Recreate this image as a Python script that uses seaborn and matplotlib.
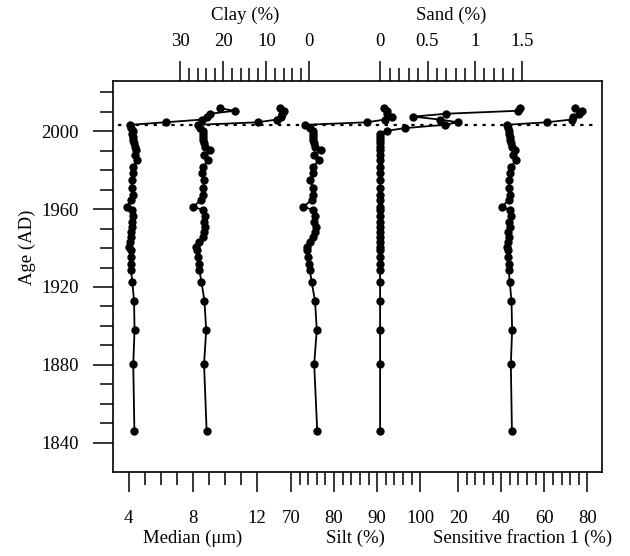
import matplotlib
matplotlib.use("Agg")
import matplotlib.pyplot as plt
import matplotlib.transforms as mtransforms
import seaborn as sns

# ages of the samples (AD), youngest first
ages = [2011.8, 2010.5, 2009.0, 2007.5, 2006.0, 2004.6, 2003.3, 2001.6, 2000.2, 1998.8,
        1997.0, 1995.5, 1993.8, 1991.8, 1990.5, 1987.8, 1985.2, 1981.5, 1978.4, 1975.0,
        1970.7, 1967.3, 1964.7, 1961.2, 1959.5, 1956.5, 1953.5, 1951.0, 1948.4, 1945.5,
        1943.3, 1940.7, 1939.0, 1935.6, 1931.8, 1928.7, 1922.7, 1912.7, 1897.9, 1880.4,
        1846.2]

median = [9.7, 10.6, 9.1, 8.9, 8.6, 6.3, 4.09, 4.15, 4.26, 4.21,
          4.27, 4.29, 4.34, 4.40, 4.49, 4.40, 4.50, 4.29, 4.26, 4.19,
          4.19, 4.26, 4.18, 3.88, 4.23, 4.27, 4.19, 4.24, 4.15, 4.18,
          4.09, 4.04, 4.12, 4.15, 4.15, 4.15, 4.23, 4.34, 4.37, 4.29,
          4.36]

clay = [6.8, 6.0, 6.4, 6.5, 7.6, 12.0, 26.0, 25.4, 24.8, 24.7,
        24.8, 24.7, 24.5, 24.3, 23.1, 24.5, 23.5, 24.7, 24.9, 24.6,
        24.7, 24.8, 25.2, 27.0, 24.7, 24.3, 24.6, 24.2, 24.4, 24.8,
        25.6, 26.4, 26.2, 26.0, 25.7, 25.6, 25.1, 24.4, 24.0, 24.5,
        23.9]

silt = [91.7, 92.3, 92.2, 93.4, 91.8, 87.6, 73.3, 74.4, 75.1, 75.2,
        75.2, 75.2, 75.4, 75.6, 76.9, 75.4, 76.4, 75.2, 75.1, 74.4,
        75.2, 75.2, 74.8, 72.9, 75.2, 75.6, 75.4, 75.8, 75.6, 75.2,
        74.4, 73.7, 73.8, 74.0, 74.3, 74.4, 74.8, 75.6, 76.0, 75.4,
        76.1]

sand = [1.48, 1.45, 0.70, 0.35, 0.63, 0.82, 0.68, 0.26, 0.07, 0.0,
        0.0, 0.0, 0.0, 0.0, 0.0, 0.0, 0.0, 0.0, 0.0, 0.0,
        0.0, 0.0, 0.0, 0.0, 0.0, 0.0, 0.0, 0.0, 0.0, 0.0,
        0.0, 0.0, 0.0, 0.0, 0.0, 0.0, 0.0, 0.0, 0.0, 0.0,
        0.0]

sf1 = [74.2, 77.3, 76.2, 73.4, 72.7, 61.1, 42.6, 43.4, 43.8, 43.8,
       44.3, 44.1, 44.8, 45.2, 46.4, 45.3, 46.9, 44.5, 44.2, 43.7,
       43.7, 44.2, 43.6, 40.3, 44.0, 44.4, 43.8, 44.1, 43.4, 43.6,
       43.0, 42.6, 43.1, 43.4, 43.5, 43.5, 44.0, 44.8, 45.1, 44.5,
       45.0]

boundary_age = 2003.3

# tick values / labels for each scale
age_major = [1840, 1880, 1920, 1960, 2000]
age_labels = ["1840", "1880", "1920", "1960", "2000"]
age_minor = [1850, 1860, 1870, 1890, 1900, 1910, 1930, 1940, 1950, 1970, 1980, 1990, 2010, 2020]

median_major = [4, 8, 12]
median_labels = ["4", "8", "12"]
median_minor = [5, 6, 7, 9, 10, 11]

clay_major = [30, 20, 10, 0]
clay_labels = ["30", "20", "10", "0"]
clay_minor = [28, 26, 24, 22, 18, 16, 14, 12, 8, 6, 4, 2]

silt_major = [70, 80, 90, 100]
silt_labels = ["70", "80", "90", "100"]
silt_minor = [72, 74, 76, 78, 82, 84, 86, 88, 92, 94, 96, 98]

sand_major = [0, 0.5, 1, 1.5]
sand_labels = ["0", "0.5", "1", "1.5"]
sand_minor = [0.1, 0.2, 0.3, 0.4, 0.6, 0.7, 0.8, 0.9, 1.1, 1.2, 1.3, 1.4]

sf1_major = [20, 40, 60, 80]
sf1_labels = ["20", "40", "60", "80"]
sf1_minor = [24, 28, 32, 36, 44, 48, 52, 56, 64, 68, 72, 76]

# ---- layout (pixels in a 630x556 figure) ----
W, H = 630, 556
L, R, T, B = 113, 601.5, 80.7, 471.7


def lim_from(v1, p1, v2, p2, lo, hi):
    s = (v2 - v1) / (p2 - p1)
    return v1 + (lo - p1) * s, v1 + (hi - p1) * s


sns.set_style("ticks", {"axes.edgecolor": "black", "xtick.color": "black",
                        "ytick.color": "black", "text.color": "black",
                        "axes.labelcolor": "black"})
plt.rcParams["font.family"] = ["Liberation Serif", "DejaVu Serif"]
FS = 13.5

fig = plt.figure(figsize=(W / 100, H / 100), dpi=100)
ax = fig.add_axes([L / W, 1 - B / H, (R - L) / W, (B - T) / H])
for sp in ax.spines.values():
    sp.set_linewidth(1.2)
ax.set_xticks([])

# y axis: pixel 442.7 -> 1840, 92.3 -> 2020 (pixel y grows downward)
ylo, yhi = lim_from(1840, 442.7, 2020, 92.3, B, T)

panels = [
    (median, median_major, median_labels, median_minor, (4, 128.6, 12, 257.0), "bottom", "Median (μm)"),
    (clay, clay_major, clay_labels, clay_minor, (30, 180.4, 0, 309.4), "top", "Clay (%)"),
    (silt, silt_major, silt_labels, silt_minor, (70, 290.9, 100, 420.3), "bottom", "Silt (%)"),
    (sand, sand_major, sand_labels, sand_minor, (0, 380.1, 1.5, 522.3), "top", "Sand (%)"),
    (sf1, sf1_major, sf1_labels, sf1_minor, (20, 458.0, 80, 587.4), "bottom", "Sensitive fraction 1 (%)"),
]

for vals, major, labels, minor, anc, side, title in panels:
    tw = ax.twiny()
    sns.lineplot(x=vals, y=ages, sort=False, estimator=None, marker="o",
                 markersize=6, markeredgewidth=0, color="black",
                 linewidth=1.3, ax=tw, legend=False)
    tw.set_xlim(*lim_from(anc[0], anc[1], anc[2], anc[3], L, R))
    for sp in tw.spines.values():
        sp.set_visible(False)
    if side == "bottom":
        tw.xaxis.tick_bottom()
        pad = 13
        ty = -(538 - B) / (B - T)
    else:
        tw.xaxis.tick_top()
        pad = 8
        ty = (B - 15) / (B - T)
    tw.set_xticks(major, labels=labels)
    tw.set_xticks(minor, minor=True)
    tw.tick_params(axis="x", which="major", direction="out", length=14.4,
                   width=1.1, pad=pad, labelsize=FS)
    tw.tick_params(axis="x", which="minor", direction="out", length=9.4, width=1.1)
    tw.set_xlabel("")
    tw.set_ylabel("")
    trans = mtransforms.blended_transform_factory(tw.transData, tw.transAxes)
    tw.text((major[0] + major[-1]) / 2, ty, title, transform=trans,
            ha="center", va="center", fontsize=FS)

ax.set_ylim(ylo, yhi)
ax.set_yticks(age_major, labels=age_labels)
ax.set_yticks(age_minor, minor=True)
ax.tick_params(axis="y", which="major", direction="out", length=14.4, width=1.1,
               pad=10, labelsize=FS)
ax.tick_params(axis="y", which="minor", direction="out", length=9.7, width=1.1)
ax.text((27 - L) / (R - L), (B - 247) / (B - T), "Age (AD)", rotation=90,
        transform=ax.transAxes, ha="center", va="center", fontsize=FS)

# boundary line
ax.axhline(boundary_age, xmin=0.01, xmax=0.987, color="black", lw=1.6,
           linestyle=(0, (1.5, 2.5)))

fig.savefig("out.png", dpi=100)
